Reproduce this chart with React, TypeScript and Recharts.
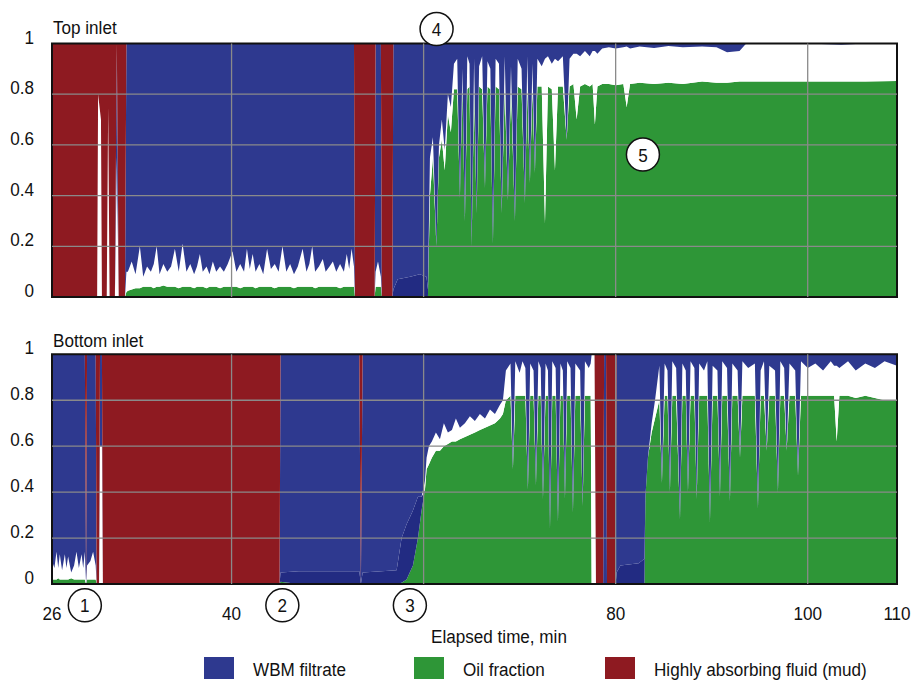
import React from 'react';
import { ComposedChart, Area, XAxis, YAxis, ReferenceLine, ReferenceArea, ReferenceDot } from 'recharts';

// each row: elapsed time (min), oil fraction, WBM filtrate fraction, mud fraction,
// and optionally the darker (settled) filtrate shade at the bottom.
// whatever is left over up to 1 is drawn white (no fluid identified)
type Row = [number, number, number, number, number?];

const topInlet: Row[] = [
  [21.3, 0, 0, 1], [26.0, 0, 0, 1], [26.1, 0, 0, 0.2], [26.4, 0, 0, 0.3], [26.5, 0, 0, 1],
  [27.0, 0, 0, 1], [27.15, 0, 0, 0.25], [27.3, 0, 0, 1], [27.85, 0, 0, 1], [28.05, 0, 0.45, 0],
  [28.25, 0, 0, 1], [28.9, 0, 0, 1], [29.05, 0.02, 0.9, 0],
  [29.2, 0.025, 0.9, 0], [29.6, 0.03, 0.86, 0], [30.0, 0.035, 0.91, 0], [30.45, 0.035, 0.8, 0],
  [30.8, 0.04, 0.92, 0], [31.2, 0.04, 0.88, 0], [31.6, 0.04, 0.9, 0], [31.9, 0.035, 0.87, 0],
  [32.2, 0.04, 0.8, 0], [32.5, 0.04, 0.91, 0], [32.9, 0.045, 0.87, 0], [33.3, 0.04, 0.9, 0],
  [33.7, 0.04, 0.88, 0], [34.1, 0.04, 0.81, 0], [34.5, 0.035, 0.9, 0], [34.9, 0.04, 0.79, 0],
  [35.3, 0.04, 0.9, 0], [35.7, 0.04, 0.87, 0], [36.1, 0.035, 0.91, 0], [36.4, 0.04, 0.88, 0],
  [36.7, 0.04, 0.83, 0], [37.0, 0.04, 0.9, 0], [37.4, 0.035, 0.88, 0], [37.7, 0.04, 0.91, 0],
  [38.05, 0.04, 0.86, 0], [38.4, 0.04, 0.9, 0], [38.8, 0.035, 0.88, 0], [39.2, 0.04, 0.9, 0],
  [39.6, 0.04, 0.87, 0], [40.1, 0.04, 0.82, 0], [40.5, 0.04, 0.9, 0], [40.9, 0.035, 0.87, 0],
  [41.3, 0.04, 0.9, 0], [41.6, 0.04, 0.81, 0], [41.9, 0.04, 0.89, 0], [42.2, 0.04, 0.83, 0],
  [42.5, 0.035, 0.9, 0], [42.9, 0.04, 0.87, 0], [43.3, 0.04, 0.91, 0], [43.7, 0.04, 0.81, 0],
  [44.1, 0.04, 0.89, 0], [44.5, 0.035, 0.87, 0], [44.9, 0.04, 0.9, 0], [45.3, 0.04, 0.8, 0],
  [45.7, 0.04, 0.9, 0], [46.1, 0.04, 0.87, 0], [46.5, 0.035, 0.91, 0], [46.9, 0.04, 0.88, 0],
  [47.4, 0.04, 0.81, 0], [47.8, 0.04, 0.9, 0], [48.1, 0.04, 0.87, 0], [48.4, 0.04, 0.8, 0],
  [48.7, 0.035, 0.9, 0], [49.1, 0.04, 0.88, 0], [49.5, 0.04, 0.85, 0], [49.8, 0.04, 0.9, 0],
  [50.2, 0.04, 0.88, 0], [50.55, 0.04, 0.86, 0], [50.9, 0.04, 0.9, 0], [51.3, 0.035, 0.87, 0],
  [51.7, 0.04, 0.9, 0], [52.0, 0.04, 0.83, 0], [52.25, 0.04, 0.89, 0], [52.5, 0.04, 0.81, 0],
  [52.75, 0.04, 0.88, 0],
  [52.85, 0, 0, 1], [54.9, 0, 0, 1], [55.0, 0.04, 0.9, 0], [55.25, 0.04, 0.86, 0], [55.55, 0.04, 0.92, 0],
  [55.65, 0, 0, 1], [56.75, 0, 0, 1], [56.85, 0, 0.97, 0, 0.03], [57.3, 0, 0.93, 0, 0.07],
  [58.6, 0, 0.92, 0, 0.08], [59.6, 0, 0.91, 0, 0.09], [60.3, 0, 0.92, 0, 0.08], [60.45, 0, 0.97, 0, 0.03],
  [60.66, 0.4, 0.45, 0], [60.97, 0.55, 0.37, 0], [61.33, 0.2, 0.8, 0], [61.6, 0.55, 0.4, 0],
  [61.9, 0.62, 0.3, 0], [62.2, 0.5, 0.42, 0], [62.53, 0.72, 0.2, 0], [62.84, 0.65, 0.25, 0],
  [63.16, 0.82, 0.08, 0], [63.5, 0.82, 0.06, 0],
  [63.78, 0.39, 0.61, 0], [64.04, 0.83, 0.1, 0], [64.3, 0.3, 0.7, 0], [64.55, 0.82, 0.05, 0],
  [64.78, 0.83, 0.08, 0], [65.0, 0.2, 0.8, 0], [65.26, 0.82, 0.06, 0], [65.52, 0.33, 0.67, 0],
  [65.78, 0.83, 0.09, 0], [66.1, 0.82, 0.05, 0], [66.39, 0.43, 0.57, 0], [66.65, 0.83, 0.07, 0],
  [66.95, 0.82, 0.1, 0], [67.22, 0.21, 0.79, 0], [67.5, 0.83, 0.06, 0], [67.85, 0.82, 0.08, 0],
  [68.13, 0.33, 0.67, 0], [68.45, 0.83, 0.05, 0], [68.78, 0.38, 0.62, 0], [69.1, 0.82, 0.09, 0],
  [69.51, 0.3, 0.7, 0], [69.8, 0.83, 0.06, 0], [70.2, 0.82, 0.1, 0], [70.55, 0.37, 0.63, 0],
  [70.8, 0.83, 0.05, 0], [71.07, 0.45, 0.55, 0], [71.33, 0.82, 0.08, 0], [71.59, 0.49, 0.51, 0],
  [71.85, 0.83, 0.06, 0], [72.3, 0.83, 0.09, 0], [72.64, 0.29, 0.06, 0], [72.95, 0.83, 0.05, 0],
  [73.35, 0.82, 0.08, 0], [73.68, 0.5, 0.06, 0], [74.0, 0.83, 0.07, 0], [74.5, 0.83, 0.05, 0],
  [74.9, 0.62, 0.38, 0], [75.2, 0.83, 0.06, 0], [75.6, 0.84, 0.04, 0], [75.94, 0.7, 0.04, 0],
  [76.3, 0.83, 0.05, 0], [76.8, 0.84, 0.03, 0], [77.3, 0.83, 0.05, 0], [77.6, 0.84, 0.03, 0],
  [77.84, 0.68, 0.03, 0], [78.1, 0.83, 0.04, 0], [78.6, 0.84, 0.02, 0], [79.3, 0.84, 0.015, 0],
  [80.0, 0.835, 0.02, 0], [80.8, 0.84, 0.015, 0], [81.15, 0.75, 0.012, 0], [81.5, 0.84, 0.02, 0],
  [82.5, 0.845, 0.012, 0], [84.0, 0.84, 0.018, 0], [85.5, 0.845, 0.01, 0], [87.0, 0.84, 0.015, 0],
  [89.0, 0.85, 0.012, 0], [90.5, 0.845, 0.015, 0], [91.6, 0.845, 0.035, 0], [92.9, 0.85, 0.03, 0],
  [93.6, 0.85, 0, 0], [96.0, 0.85, 0, 0], [100.0, 0.85, 0, 0], [103.5, 0.85, 0.005, 0],
  [106.0, 0.85, 0, 0], [109.3, 0.852, 0, 0],
];

const bottomInlet: Row[] = [
  [21.3, 0.02, 0.9, 0], [21.55, 0.02, 0.93, 0], [21.77, 0.02, 0.86, 0], [21.95, 0.025, 0.93, 0],
  [22.11, 0.02, 0.87, 0], [22.35, 0.02, 0.94, 0], [22.64, 0.02, 0.87, 0], [22.8, 0.02, 0.93, 0],
  [22.98, 0.02, 0.88, 0], [23.3, 0.025, 0.95, 0], [23.6, 0.02, 0.92, 0], [23.85, 0.02, 0.86, 0],
  [24.1, 0.02, 0.93, 0], [24.38, 0.02, 0.87, 0], [24.55, 0.02, 0.93, 0], [24.72, 0.02, 0.86, 0],
  [24.85, 0, 0, 1], [24.95, 0.02, 0.92, 0], [25.3, 0.02, 0.9, 0], [25.58, 0.02, 0.86, 0],
  [25.85, 0.02, 0.92, 0], [25.95, 0, 0, 1], [26.2, 0, 0, 1], [26.3, 0, 0.4, 0], [26.5, 0, 0.4, 0],
  [26.6, 0, 0, 1], [45.0, 0, 0, 1], [45.1, 0.01, 0.95, 0, 0.04], [47.0, 0, 0.945, 0, 0.055],
  [53.3, 0, 0.945, 0, 0.055], [53.47, 0, 0, 1], [53.65, 0, 0.95, 0, 0.05],
  [57.19, 0, 0.94, 0, 0.06], [57.71, 0.005, 0.8, 0, 0.195], [58.23, 0.02, 0.74, 0, 0.24],
  [58.89, 0.08, 0.68, 0, 0.24], [59.41, 0.2, 0.62, 0, 0.18], [59.79, 0.32, 0.62, 0, 0.06],
  [60.14, 0.41, 0.55, 0], [60.31, 0.5, 0.45, 0],
  [60.55, 0.52, 0.4, 0], [60.86, 0.55, 0.38, 0],
  [61.28, 0.58, 0.34, 0], [61.7, 0.58, 0.37, 0], [62.11, 0.6, 0.3, 0], [62.53, 0.61, 0.34, 0],
  [62.95, 0.62, 0.33, 0], [63.36, 0.62, 0.28, 0], [63.78, 0.63, 0.32, 0], [64.3, 0.64, 0.3, 0],
  [64.82, 0.65, 0.27, 0], [65.34, 0.66, 0.29, 0], [65.86, 0.67, 0.26, 0], [66.39, 0.68, 0.28, 0],
  [66.91, 0.69, 0.24, 0], [67.43, 0.7, 0.26, 0], [67.95, 0.72, 0.22, 0], [68.26, 0.74, 0.2, 0],
  [68.57, 0.8, 0.07, 0],
  [69.05, 0.82, 0.04, 0], [69.3, 0.5, 0.5, 0], [69.55, 0.82, 0.03, 0], [70.0, 0.82, 0.08, 0],
  [70.3, 0.82, 0.03, 0], [70.6, 0.82, 0.06, 0], [70.86, 0.41, 0.59, 0], [71.1, 0.82, 0.04, 0],
  [71.45, 0.82, 0.07, 0], [71.7, 0.43, 0.57, 0], [71.95, 0.82, 0.03, 0], [72.2, 0.82, 0.06, 0],
  [72.43, 0.37, 0.63, 0], [72.7, 0.82, 0.04, 0], [72.95, 0.82, 0.07, 0], [73.16, 0.24, 0.76, 0],
  [73.4, 0.82, 0.03, 0], [73.75, 0.82, 0.06, 0], [73.99, 0.27, 0.73, 0], [74.25, 0.82, 0.04, 0],
  [74.5, 0.82, 0.07, 0], [74.72, 0.37, 0.63, 0], [74.95, 0.82, 0.03, 0], [75.3, 0.82, 0.06, 0],
  [75.55, 0.31, 0.69, 0], [75.8, 0.82, 0.04, 0], [76.3, 0.82, 0.07, 0], [76.56, 0.34, 0.66, 0],
  [76.8, 0.82, 0.03, 0], [77.2, 0.82, 0.06, 0], [77.4, 0.82, 0.04, 0],
  [77.5, 0, 0, 0], [77.8, 0, 0, 0], [77.95, 0, 0, 1], [78.7, 0, 0, 1], [78.8, 0, 1, 0],
  [79.0, 0, 1, 0], [79.1, 0, 0, 1], [80.0, 0, 0, 1], [80.1, 0, 0.95, 0, 0.05], [80.5, 0, 0.92, 0, 0.08],
  [82.4, 0, 0.91, 0, 0.09], [83.0, 0, 0.89, 0, 0.11],
  [83.1, 0.38, 0.62, 0], [83.36, 0.55, 0.45, 0], [83.75, 0.66, 0.3, 0], [84.1, 0.72, 0.2, 0],
  [84.55, 0.8, 0.05, 0], [84.82, 0.44, 0.56, 0], [85.1, 0.82, 0.04, 0], [85.4, 0.82, 0.07, 0],
  [85.65, 0.4, 0.6, 0], [85.9, 0.82, 0.03, 0], [86.3, 0.82, 0.06, 0], [86.7, 0.28, 0.72, 0],
  [86.95, 0.82, 0.04, 0], [87.3, 0.82, 0.07, 0], [87.53, 0.4, 0.6, 0], [87.8, 0.82, 0.03, 0],
  [88.2, 0.82, 0.06, 0], [88.44, 0.37, 0.63, 0], [88.7, 0.82, 0.04, 0], [89.2, 0.82, 0.07, 0],
  [89.55, 0.82, 0.03, 0], [89.82, 0.27, 0.73, 0], [90.1, 0.82, 0.05, 0], [90.6, 0.82, 0.07, 0],
  [90.86, 0.38, 0.62, 0], [91.1, 0.82, 0.03, 0], [91.6, 0.82, 0.06, 0], [91.9, 0.36, 0.64, 0],
  [92.15, 0.82, 0.04, 0], [92.7, 0.82, 0.07, 0], [92.95, 0.55, 0.45, 0], [93.2, 0.82, 0.03, 0],
  [93.8, 0.82, 0.06, 0], [94.5, 0.82, 0.04, 0], [94.82, 0.33, 0.67, 0], [95.1, 0.82, 0.07, 0],
  [95.45, 0.82, 0.03, 0], [95.73, 0.58, 0.42, 0], [96.0, 0.82, 0.05, 0], [96.6, 0.82, 0.07, 0],
  [96.9, 0.4, 0.6, 0], [97.15, 0.82, 0.03, 0], [97.55, 0.82, 0.06, 0], [97.81, 0.58, 0.42, 0],
  [98.1, 0.82, 0.04, 0], [98.7, 0.82, 0.07, 0], [98.99, 0.47, 0.53, 0], [99.3, 0.82, 0.03, 0],
  [100.0, 0.82, 0.06, 0], [100.8, 0.82, 0.04, 0], [101.6, 0.82, 0.07, 0], [102.4, 0.82, 0.03, 0],
  [102.75, 0.82, 0.05, 0], [103.02, 0.62, 0.05, 0], [103.3, 0.82, 0.06, 0], [104.2, 0.82, 0.03, 0],
  [105.0, 0.81, 0.07, 0], [106.0, 0.82, 0.04, 0], [107.0, 0.81, 0.06, 0], [108.0, 0.8, 0.03, 0],
  [109.3, 0.8, 0.05, 0],
];

const series = [
  { key: 'wbm', name: 'WBM filtrate', color: '#2e398f' },
  { key: 'oil', name: 'Oil fraction', color: '#2e9637' },
  { key: 'mud', name: 'Highly absorbing fluid (mud)', color: '#8e1a21' },
];
const darkWbmColor = '#222b82';

const xDomain = [21.3, 109.3];
const xTicks = [21.3, 40, 80, 100, 109.3];
const xTickLabels = ['26', '40', '80', '100', '110'];
const xGrid = [40, 60, 80, 100];
const yTicks = [0, 0.2, 0.4, 0.6, 0.8, 1];
const yGrid = [0.2, 0.4, 0.6, 0.8];

const topMarks = [
  { label: '4', t: 61.35, v: 1.057 },
  { label: '5', t: 82.84, v: 0.562 },
];
const bottomMarks = [
  { label: '1', t: 24.72, v: -0.093 },
  { label: '2', t: 45.29, v: -0.093 },
  { label: '3', t: 58.57, v: -0.093 },
];

const FONT = "'Liberation Sans', Arial, sans-serif";
const COLOR = Object.fromEntries(series.map(s => [s.key, s.color]));
const legendX = [204, 414, 605];

const toData = (rows: Row[]) =>
  rows.map(([t, oil, wbm, mud, dark = 0]) => ({
    t, oil, dark, wbm, mud, gap: Math.max(0, 1 - oil - dark - wbm - mud),
  }));

// narrow lettering like the original condensed face
const Txt = ({ x, y, anchor = 'start', children }: any) => (
  <text transform={`translate(${x},${y}) scale(0.9,1)`} textAnchor={anchor} fontFamily={FONT} fontSize={19} fill="#111">
    {children}
  </text>
);

const YTick = ({ x, y, payload }: any) => (
  <Txt x={x} y={y} anchor="end">
    {payload.value === 0 || payload.value === 1 ? String(payload.value) : payload.value.toFixed(1)}
  </Txt>
);

const XTick = ({ x, y, payload }: any) => (
  <Txt x={x} y={y + 36} anchor="middle">{xTickLabels[xTicks.indexOf(payload.value)]}</Txt>
);

const Marker = ({ cx, cy, label }: any) => (
  <g>
    <circle cx={cx} cy={cy} r={16.5} fill="#fff" stroke="#111" strokeWidth={1.5} />
    <Txt x={cx} y={cy + 7} anchor="middle">{label}</Txt>
  </g>
);

const areaProps = { type: 'linear' as const, stackId: 'a', fillOpacity: 1, stroke: 'none', dot: false, activeDot: false, isAnimationActive: false };

const Panel = ({ rows, marks, showX, height, margin }: any) => (
  <ComposedChart width={914} height={height} data={toData(rows)} margin={margin}>
    <XAxis
      dataKey="t" type="number" domain={xDomain} allowDataOverflow ticks={xTicks} interval={0}
      hide={!showX} axisLine={false} tickLine={false} tickSize={0} tickMargin={0} height={30} tick={<XTick />}
    />
    <YAxis
      type="number" domain={[0, 1]} ticks={yTicks} interval={0} width={52}
      axisLine={false} tickLine={false} tickSize={0} tickMargin={18} tick={<YTick />}
    />
    <Area {...areaProps} dataKey="oil" fill={COLOR.oil} />
    <Area {...areaProps} dataKey="dark" fill={darkWbmColor} />
    <Area {...areaProps} dataKey="gap" fill="#ffffff" />
    <Area {...areaProps} dataKey="wbm" fill={COLOR.wbm} />
    <Area {...areaProps} dataKey="mud" fill={COLOR.mud} />
    {yGrid.map(v => <ReferenceLine key={'y' + v} y={v} stroke="#8a8a8a" strokeWidth={1.3} />)}
    {xGrid.map(v => <ReferenceLine key={'x' + v} x={v} stroke="#8a8a8a" strokeWidth={1.3} />)}
    <ReferenceArea x1={xDomain[0]} x2={xDomain[1]} y1={0} y2={1} fill="none" stroke="#111" strokeWidth={2} ifOverflow="visible" />
    {marks.map((m: any) => (
      <ReferenceDot key={m.label} x={m.t} y={m.v} r={16.5} ifOverflow="visible"
        shape={(p: any) => <Marker cx={p.cx} cy={p.cy} label={m.label} />} />
    ))}
  </ComposedChart>
);

export default function App() {
  return (
    <div style={{ position: 'absolute', left: 0, top: 0, width: 914, height: 682, background: '#fff', fontFamily: FONT }}>
      <div style={{ position: 'absolute', left: 0, top: 0 }}>
        <Panel rows={topInlet} marks={topMarks} showX={false} height={310} margin={{ top: 43.5, right: 17, bottom: 13, left: 0 }} />
      </div>
      <div style={{ position: 'absolute', left: 0, top: 320 }}>
        <Panel rows={bottomInlet} marks={bottomMarks} showX height={320} margin={{ top: 34.3, right: 17, bottom: 26, left: 0 }} />
      </div>
      <svg width={914} height={682} style={{ position: 'absolute', left: 0, top: 0, pointerEvents: 'none' }}>
        <Txt x={53} y={34}>Top inlet</Txt>
        <Txt x={53} y={347}>Bottom inlet</Txt>
        <Txt x={499} y={643} anchor="middle">Elapsed time, min</Txt>
        {series.map((s, i) => (
          <g key={s.key}>
            <rect x={legendX[i]} y={657} width={30} height={22} fill={s.color} />
            <Txt x={legendX[i] + 49} y={676}>{s.name}</Txt>
          </g>
        ))}
      </svg>
    </div>
  );
}
